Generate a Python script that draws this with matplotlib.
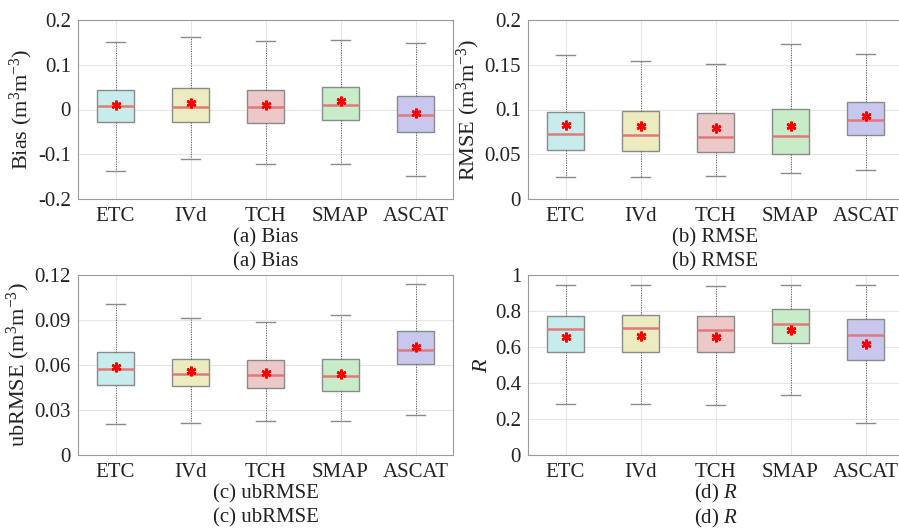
import matplotlib
matplotlib.use("Agg")
import matplotlib.pyplot as plt

plt.rcParams['font.family'] = ['Liberation Serif', 'DejaVu Serif']
plt.rcParams['mathtext.fontset'] = 'custom'
plt.rcParams['mathtext.rm'] = 'Liberation Serif'
plt.rcParams['mathtext.it'] = 'Liberation Serif:italic'

categories = ["ETC", "IVd", "TCH", "SMAP", "ASCAT"]
box_colors = ["#c6ecec", "#ececc0", "#ecc8c8", "#c8ecc8", "#c8c8ee"]

# stats per panel: whislo, q1, med, q3, whishi, mean
bias_lo = [-0.137, -0.1115, -0.122, -0.122, -0.149]
bias_q1 = [-0.029, -0.028, -0.030, -0.0245, -0.0513]
bias_med = [0.0082, 0.0067, 0.006, 0.0097, -0.0126]
bias_q3 = [0.0446, 0.049, 0.043, 0.050, 0.0305]
bias_hi = [0.1517, 0.162, 0.152, 0.156, 0.149]
bias_mean = [0.011, 0.014, 0.011, 0.0186, -0.0074]

rmse_lo = [0.0251, 0.0244, 0.0259, 0.0285, 0.0323]
rmse_q1 = [0.0548, 0.054, 0.0529, 0.0503, 0.0717]
rmse_med = [0.0728, 0.0713, 0.0694, 0.0702, 0.0882]
rmse_q3 = [0.0968, 0.0983, 0.0957, 0.1002, 0.108]
rmse_hi = [0.1614, 0.1546, 0.1512, 0.1734, 0.162]
rmse_mean = [0.0822, 0.0814, 0.0795, 0.0814, 0.093]

ub_lo = [0.0207, 0.0216, 0.0228, 0.0225, 0.0268]
ub_q1 = [0.0466, 0.0457, 0.0448, 0.043, 0.0607]
ub_med = [0.0571, 0.054, 0.0531, 0.0526, 0.070]
ub_q3 = [0.0685, 0.064, 0.0636, 0.064, 0.083]
ub_hi = [0.1008, 0.0914, 0.0888, 0.0935, 0.1138]
ub_mean = [0.0589, 0.0562, 0.0549, 0.0542, 0.072]

r_lo = [0.286, 0.286, 0.277, 0.333, 0.180]
r_q1 = [0.574, 0.574, 0.571, 0.621, 0.526]
r_med = [0.701, 0.703, 0.697, 0.727, 0.665]
r_q3 = [0.771, 0.779, 0.775, 0.810, 0.758]
r_hi = [0.946, 0.946, 0.939, 0.942, 0.944]
r_mean = [0.658, 0.660, 0.658, 0.697, 0.619]

bias_ticks = [-0.2, -0.1, 0, 0.1, 0.2]
bias_ticklabels = ["-0.2", "-0.1", "0", "0.1", "0.2"]
rmse_ticks = [0, 0.05, 0.1, 0.15, 0.2]
rmse_ticklabels = ["0", "0.05", "0.1", "0.15", "0.2"]
ub_ticks = [0, 0.03, 0.06, 0.09, 0.12]
ub_ticklabels = ["0", "0.03", "0.06", "0.09", "0.12"]
r_ticks = [0, 0.2, 0.4, 0.6, 0.8, 1.0]
r_ticklabels = ["0", "0.2", "0.4", "0.6", "0.8", "1"]

W, H = 899, 528
fig = plt.figure(figsize=(W / 100, H / 100), dpi=100)

def axrect(left, top, right, bottom):
    return [left / W, 1 - bottom / H, (right - left) / W, (bottom - top) / H]

panels = [
    (axrect(78, 20, 453, 199), (bias_lo, bias_q1, bias_med, bias_q3, bias_hi, bias_mean),
     (-0.2, 0.2), bias_ticks, bias_ticklabels, "Bias (m$^3$m$^{-3}$)", "(a) Bias"),
    (axrect(528, 20, 903, 199), (rmse_lo, rmse_q1, rmse_med, rmse_q3, rmse_hi, rmse_mean),
     (0, 0.2), rmse_ticks, rmse_ticklabels, "RMSE (m$^3$m$^{-3}$)", "(b) RMSE"),
    (axrect(78, 275, 453, 455), (ub_lo, ub_q1, ub_med, ub_q3, ub_hi, ub_mean),
     (0, 0.12), ub_ticks, ub_ticklabels, "ubRMSE (m$^3$m$^{-3}$)", "(c) ubRMSE"),
    (axrect(528, 275, 903, 455), (r_lo, r_q1, r_med, r_q3, r_hi, r_mean),
     (0, 1.0), r_ticks, r_ticklabels, "$R$", "(d) $R$"),
]

for rect, (lo, q1, med, q3, hi, mean), ylim, ticks, ticklabels, ylabel, caption in panels:
    ax = fig.add_axes(rect)
    stats = []
    for i in range(len(categories)):
        stats.append(dict(whislo=lo[i], q1=q1[i], med=med[i], q3=q3[i], whishi=hi[i],
                          mean=mean[i], fliers=[], label=categories[i]))
    bp = ax.bxp(stats, positions=range(1, 6), widths=0.5, patch_artist=True,
                showmeans=True, showfliers=False,
                boxprops=dict(edgecolor="#8a8a8a", linewidth=1.0),
                whiskerprops=dict(color="#555555", linestyle=(0, (1, 1.5)), linewidth=0.7),
                capprops=dict(color="#8a8a8a", linewidth=1.0),
                medianprops=dict(color="#e07a7a", linewidth=1.8),
                meanprops=dict(marker=(6, 2, 0), markeredgecolor="red", markerfacecolor="red",
                               markersize=7, markeredgewidth=1.8),
                capwidths=0.25)
    for patch, c in zip(bp["boxes"], box_colors):
        patch.set_facecolor(c)
    ax.set_xlim(0.5, 5.5)
    ax.set_ylim(*ylim)
    ax.set_yticks(ticks)
    ax.set_yticklabels(ticklabels)
    ax.set_xticks(range(1, 6))
    ax.set_xticklabels(categories)
    ax.tick_params(axis="both", labelsize=15, length=0, colors="#222222")
    ax.tick_params(axis="x", pad=6)
    ax.tick_params(axis="y", pad=5)
    ax.grid(True, color="#e6e6e6", linewidth=0.8)
    ax.set_axisbelow(True)
    for s in ax.spines.values():
        s.set_color("#9a9a9a")
        s.set_linewidth(0.8)
    ax.set_ylabel(ylabel, fontsize=16, labelpad=2, color="#222222")
    ax.text(0.5, -0.215, caption, transform=ax.transAxes, ha="center", va="center",
            fontsize=15, color="#222222")
    ax.text(0.5, -0.35, caption, transform=ax.transAxes, ha="center", va="center",
            fontsize=15, color="#222222")

fig.savefig("out.png", dpi=100)
